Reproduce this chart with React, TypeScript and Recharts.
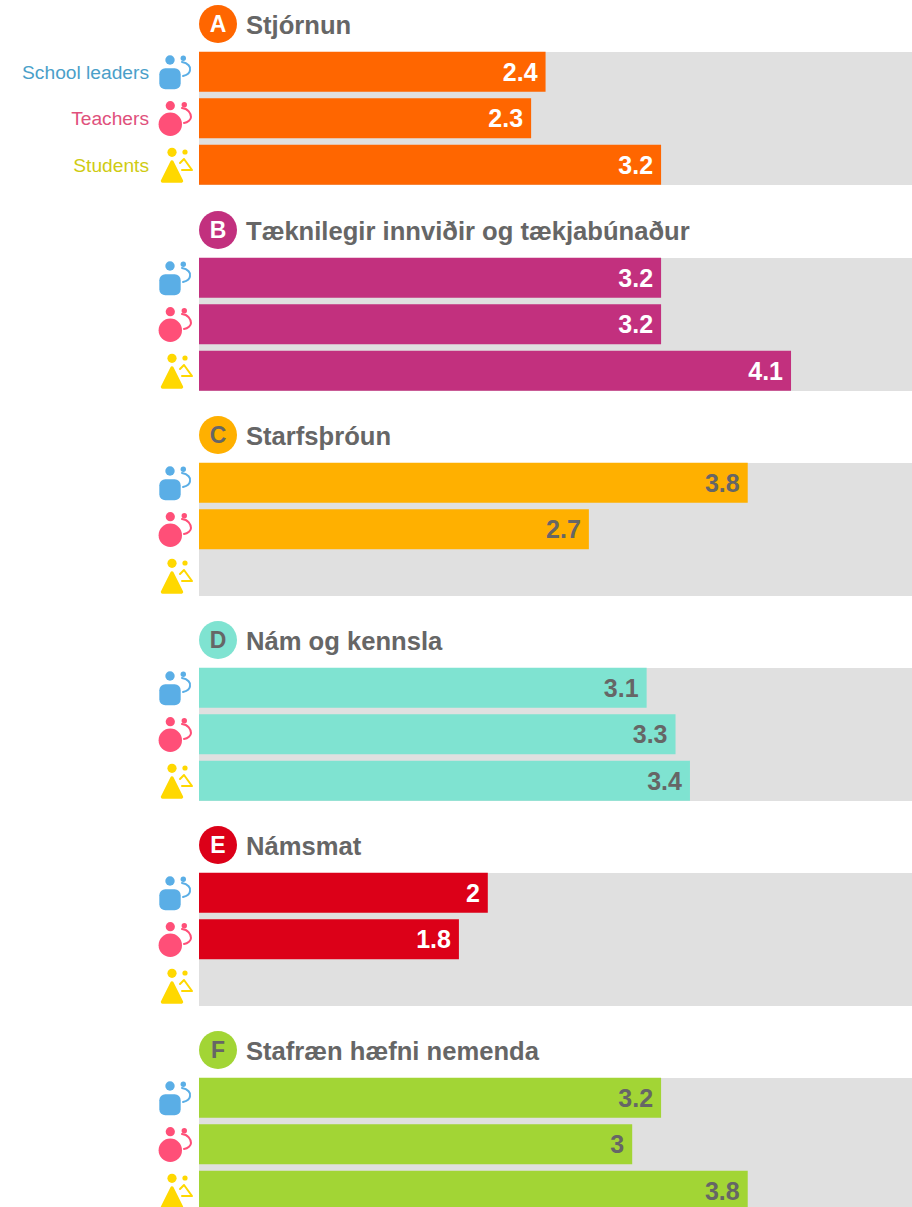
import { BarChart, Bar, XAxis, YAxis, ReferenceArea, LabelList, Cell } from 'recharts';

const groups = ['School leaders', 'Teachers', 'Students'];
const groupColors = ['#4A9FC9', '#E0517C', '#CFCB12'];
const iconColors = ['#5AAEE6', '#FF4F78', '#FFD800'];

const letters = ['A', 'B', 'C', 'D', 'E', 'F'];
const titles = [
  'Stjórnun',
  'Tæknilegir innviðir og tækjabúnaður',
  'Starfsþróun',
  'Nám og kennsla',
  'Námsmat',
  'Stafræn hæfni nemenda',
];
const panelColors = ['#FF6600', '#C2307E', '#FFB000', '#7FE3D1', '#DC0018', '#A2D535'];
const labelColors = ['#FFFFFF', '#FFFFFF', '#666666', '#666666', '#FFFFFF', '#666666'];
const letterColors = ['#FFFFFF', '#FFFFFF', '#666666', '#666666', '#FFFFFF', '#666666'];

const stjornun = [2.4, 2.3, 3.2];
const innvidir = [3.2, 3.2, 4.1];
const starfsthroun = [3.8, 2.7, null];
const kennsla = [3.1, 3.3, 3.4];
const namsmat = [2, 1.8, null];
const haefni = [3.2, 3, 3.8];
const panelValues = [stjornun, innvidir, starfsthroun, kennsla, namsmat, haefni];

const panelTops = [0, 206, 411, 616, 821, 1026];
const AXIS_W = 199;
const FONT = '"Liberation Sans", Arial, sans-serif';

function PersonIcon({ kind, cy }: { kind: number; cy: number }) {
  const color = iconColors[kind];
  const stroke = {
    fill: 'none',
    stroke: color,
    strokeWidth: 2,
    strokeLinecap: 'round' as const,
    strokeLinejoin: 'round' as const,
  };
  if (kind === 0) {
    return (
      <g transform={`translate(0, ${cy})`}>
        <circle cx={170} cy={-12} r={4.7} fill={color} />
        <rect x={159.3} y={-3.7} width={21.4} height={21} rx={6} fill={color} />
        <circle cx={183.3} cy={-13.7} r={2.7} fill={color} />
        <path d="M182 -10 C188 -9 191 -5 190 -2 C190 1 187 3 183 4" {...stroke} />
      </g>
    );
  }
  if (kind === 1) {
    return (
      <g transform={`translate(0, ${cy})`}>
        <circle cx={170.3} cy={-12.8} r={4.6} fill={color} />
        <circle cx={170.3} cy={5.8} r={11.7} fill={color} />
        <circle cx={184.3} cy={-13.8} r={2.7} fill={color} />
        <path d="M182 -10.5 C188 -10 191 -5 191 -1.5 C191 1 188 4 184 4.5" {...stroke} />
      </g>
    );
  }
  return (
    <g transform={`translate(0, ${cy})`}>
      <circle cx={172} cy={-12.7} r={4.6} fill={color} />
      <path
        d="M172 -3 L181.5 16 L162.5 16 Z"
        fill={color}
        stroke={color}
        strokeWidth={3.4}
        strokeLinejoin="round"
      />
      <circle cx={185} cy={-13} r={2.6} fill={color} />
      <path d="M180 -2 L184 -6 L192 5 L182 5" {...stroke} />
    </g>
  );
}

function GroupTick({ y, payload, showText }: any) {
  const kind = groups.indexOf(payload.value);
  return (
    <g>
      <PersonIcon kind={kind} cy={y} />
      {showText && (
        <text
          x={149}
          y={y}
          dy={6.5}
          textAnchor="end"
          fontFamily={FONT}
          fontSize={19.2}
          fill={groupColors[kind]}
        >
          {payload.value}
        </text>
      )}
    </g>
  );
}

// gray track stops at the outer bar edges, not at the padded band edges
function Track({ x, y, width, height }: any) {
  return <rect x={x} y={y + 3.25} width={width} height={height - 6.5} fill="#E0E0E0" />;
}

function Panel({ index }: { index: number }) {
  const rows = groups.map((name, i) => ({ name, value: panelValues[index][i] }));
  return (
    <div style={{ position: 'absolute', left: 0, top: panelTops[index], width: 921, height: 200 }}>
      <div
        style={{
          position: 'absolute',
          left: 199,
          top: 5,
          width: 38,
          height: 38,
          borderRadius: '50%',
          background: panelColors[index],
          color: letterColors[index],
          fontFamily: FONT,
          fontWeight: 700,
          fontSize: 23,
          lineHeight: '38px',
          textAlign: 'center',
        }}
      >
        {letters[index]}
      </div>
      <div
        style={{
          position: 'absolute',
          left: 246,
          top: 6,
          fontFamily: FONT,
          fontWeight: 700,
          fontSize: 25.6,
          lineHeight: '38px',
          color: '#666666',
          whiteSpace: 'nowrap',
        }}
      >
        {titles[index]}
      </div>
      <BarChart
        width={921}
        height={200}
        layout="vertical"
        data={rows}
        margin={{ top: 52, right: 0, bottom: 15, left: 0 }}
        barSize={40}
      >
        <XAxis type="number" domain={[0, 5]} hide />
        <YAxis
          type="category"
          dataKey="name"
          width={AXIS_W}
          axisLine={false}
          tickLine={false}
          interval={0}
          padding={{ top: -3.25, bottom: -3.25 }}
          tick={(props: any) => <GroupTick {...props} showText={index === 0} />}
        />
        <ReferenceArea x1={0} x2={5} shape={Track} />
        <Bar dataKey="value" isAnimationActive={false}>
          {rows.map((row) => (
            <Cell key={row.name} fill={panelColors[index]} />
          ))}
          <LabelList
            dataKey="value"
            position="insideRight"
            offset={8}
            fill={labelColors[index]}
            fontFamily={FONT}
            fontWeight={700}
            fontSize={25}
          />
        </Bar>
      </BarChart>
    </div>
  );
}

export default function App() {
  return (
    <div
      style={{
        position: 'absolute',
        left: 0,
        top: 0,
        width: 912,
        height: 1207,
        overflow: 'hidden',
        background: '#FFFFFF',
      }}
    >
      {panelTops.map((_, i) => (
        <Panel key={letters[i]} index={i} />
      ))}
    </div>
  );
}
